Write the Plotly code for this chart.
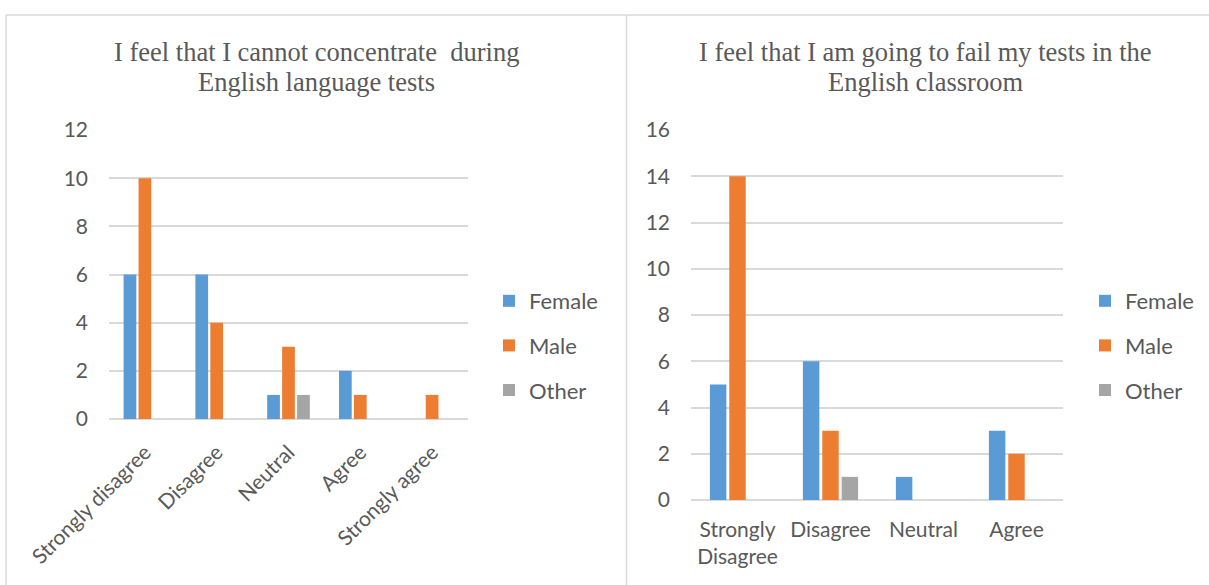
import plotly.graph_objects as go

W, H = 1209, 585

# Left chart: concentration during tests
cats_left = ["Strongly disagree", "Disagree", "Neutral", "Agree", "Strongly agree"]
female_left = [6, 6, 1, 2, 0]
male_left = [10, 4, 3, 1, 1]
other_left = [0, 0, 1, 0, 0]

# Right chart: expecting to fail tests
cats_right = ["Strongly<br>Disagree", "Disagree", "Neutral", "Agree"]
female_right = [5, 6, 1, 3]
male_right = [14, 3, 0, 2]
other_right = [0, 1, 0, 0]

series_names = ["Female", "Male", "Other"]
colors = ["#5B9BD5", "#ED7D31", "#A5A5A5"]

title_left = ["I feel that I cannot concentrate\u00a0 during", "English language tests"]
title_right = ["I feel that I am going to fail my tests in the", "English classroom"]

TXT = "#595959"
GRID = "#D9D9D9"
SANS = "Lato, 'Open Sans', sans-serif"
SERIF = "'Liberation Serif', 'Times New Roman', serif"


def px_x(p):
    return p / W


def px_y(p):
    return 1 - p / H


fig = go.Figure()

for vals, name, col in zip([female_left, male_left, other_left], series_names, colors):
    fig.add_trace(go.Bar(x=cats_left, y=vals, name=name, marker=dict(color=col, line=dict(width=0)),
                         xaxis="x", yaxis="y", legend="legend", legendgroup="L" + name))
for vals, name, col in zip([female_right, male_right, other_right], series_names, colors):
    fig.add_trace(go.Bar(x=cats_right, y=vals, name=name, marker=dict(color=col, line=dict(width=0)),
                         xaxis="x2", yaxis="y2", legend="legend2", legendgroup="R" + name))

axis_font = dict(family=SANS, size=21, color=TXT)
legend_font = dict(family=SANS, size=22, color=TXT)

fig.update_layout(
    width=W, height=H,
    margin=dict(l=0, r=0, t=0, b=0, pad=0),
    paper_bgcolor="white", plot_bgcolor="white",
    barmode="group", bargap=0.375, bargroupgap=0.15,
    font=dict(family=SANS, color=TXT),
    xaxis=dict(domain=[px_x(109), px_x(468)], anchor="y", showgrid=False, showline=False,
               zeroline=False, tickangle=-45, tickfont=axis_font, ticks="", ticklabelstandoff=16,
               automargin=False, fixedrange=True),
    yaxis=dict(domain=[px_y(419), px_y(130)], anchor="x", range=[0, 12], dtick=2,
               showgrid=True, gridcolor=GRID, gridwidth=1.5, zeroline=True, zerolinecolor=GRID,
               zerolinewidth=1.5, showline=False, tickfont=axis_font, ticks="",
               ticklabelstandoff=20, automargin=False, fixedrange=True),
    xaxis2=dict(domain=[px_x(691), px_x(1063)], anchor="y2", showgrid=False, showline=False,
                zeroline=False, tickangle=0, tickfont=axis_font, ticks="", ticklabelstandoff=15,
                automargin=False, fixedrange=True),
    yaxis2=dict(domain=[px_y(500), px_y(130)], anchor="x2", range=[0, 16], dtick=2,
                showgrid=True, gridcolor=GRID, gridwidth=1.5, zeroline=True, zerolinecolor=GRID,
                zerolinewidth=1.5, showline=False, tickfont=axis_font, ticks="",
                ticklabelstandoff=20, automargin=False, fixedrange=True),
    legend=dict(x=px_x(489), y=px_y(280), xanchor="left", yanchor="top",
                font=legend_font, bgcolor="rgba(0,0,0,0)",
                tracegroupgap=13, traceorder="grouped", itemwidth=30),
    legend2=dict(x=px_x(1085), y=px_y(280), xanchor="left", yanchor="top",
                 font=legend_font, bgcolor="rgba(0,0,0,0)",
                 tracegroupgap=13, traceorder="grouped", itemwidth=30),
    showlegend=True,
)

# Chart titles, one annotation per line
annos = []
for lines, cx in [(title_left, 316), (title_right, 925)]:
    for i, line in enumerate(lines):
        annos.append(dict(text=line, x=px_x(cx), y=px_y(52 + 30 * i), xref="paper", yref="paper",
                          xanchor="center", yanchor="middle", showarrow=False,
                          font=dict(family=SERIF, size=26.5, color=TXT)))
fig.update_layout(annotations=annos)

# Chart area borders
border = dict(color=GRID, width=1.5)
shapes = [
    dict(type="line", xref="paper", yref="paper", x0=px_x(6), x1=1, y0=px_y(15), y1=px_y(15), line=border),
    dict(type="line", xref="paper", yref="paper", x0=px_x(6), x1=px_x(6), y0=px_y(15), y1=0, line=border),
    dict(type="line", xref="paper", yref="paper", x0=px_x(626.5), x1=px_x(626.5), y0=px_y(15), y1=0, line=border),
]
fig.update_layout(shapes=shapes)

fig.write_html("out.html")
